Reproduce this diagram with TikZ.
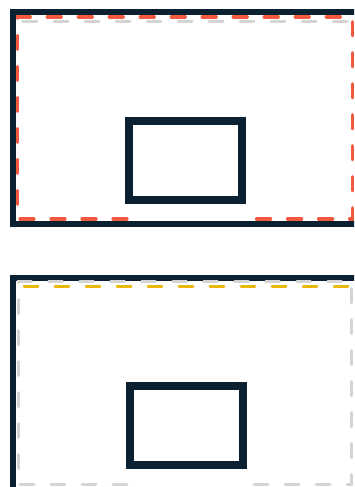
\documentclass[tikz,border=0pt]{standalone}
\usetikzlibrary{positioning}

\definecolor{navy}{HTML}{0B2030}
\definecolor{coral}{HTML}{F25A3F}
\definecolor{lightgrey}{HTML}{D4D4D4}
\definecolor{gold}{HTML}{E9B80C}

\begin{document}
\begin{tikzpicture}[
    x=1pt, y=-1pt,
    frame/.style={draw=navy, line width=6pt},
    window/.style={draw=navy, line width=8pt},
    bleed/.style={draw=coral, line width=3.3pt, line cap=round, dash pattern=on 14pt off 17pt},
    safe/.style={draw=lightgrey, line width=3pt, line cap=round, dash pattern=on 14pt off 17pt},
    fold/.style={draw=gold, line width=3pt, line cap=round, dash pattern=on 14pt off 17pt}
]
    \useasboundingbox (0,0) rectangle (354,487);
    \clip (0,0) rectangle (354,487);

    % Top panel
    \coordinate (topNW) at (13,12.5);
    \coordinate (topSE) at (360,223.5);
    \draw[frame] (topNW) rectangle (topSE);
    \draw[safe] (23,21.7) -- (349,21.7);
    \draw[bleed] (127,219) -- (17.6,219) -- (17.6,17) -- (352.4,17) -- (352.4,219) -- (243,219);
    \draw[window] (129,121) rectangle (242,199.5);

    % Bottom panel
    \coordinate (botNW) at (13,277.5);
    \coordinate (botSE) at (360,489.5);
    \draw[frame] (botNW) rectangle (botSE);
    \draw[safe] (127,484) -- (18.3,484) -- (18.3,281.9) -- (351.7,281.9) -- (351.7,484) -- (243,484);
    \draw[fold] (24,286.7) -- (348,286.7);
    \draw[window] (130,386) rectangle (242.5,464.5);
\end{tikzpicture}
\end{document}
